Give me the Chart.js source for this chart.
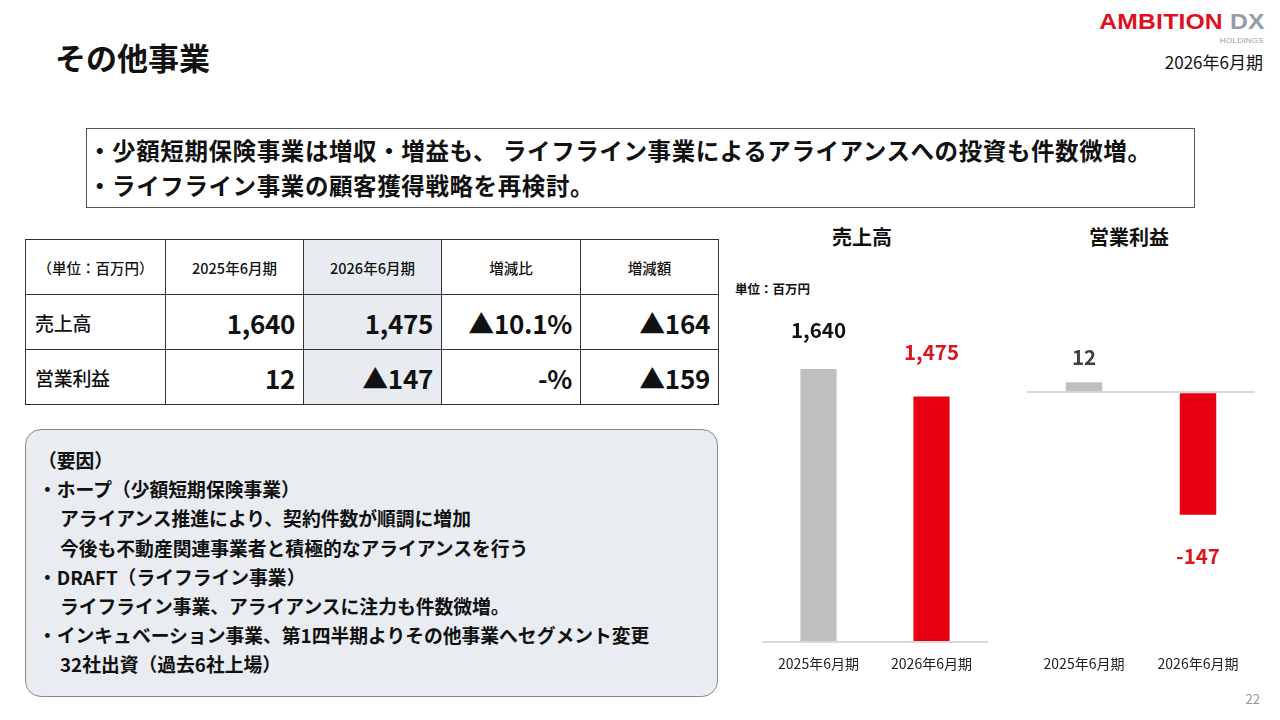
<!DOCTYPE html>
<html lang="ja">
<head>
<meta charset="utf-8">
<script src="https://cdn.jsdelivr.net/npm/chart.js@4.4.1/dist/chart.umd.min.js"></script>
<style>
  * { box-sizing: border-box; margin: 0; padding: 0; }
  body { width: 1280px; height: 720px; background: #fff; position: relative; overflow: hidden;
         font-family: "Noto Sans CJK JP", "Noto Sans", sans-serif; color: #111; }
  .abs { position: absolute; }
  #title { left: 55px; top: 36px; font-size: 31px; font-weight: 700; line-height: 42px; }
  #logo { right: 15px; top: 11px; font-family: "Liberation Sans", Arial, sans-serif; font-weight: 700;
          font-size: 22px; letter-spacing: 0.2px; line-height: 22px; white-space: nowrap;
          transform: scaleX(1.12); transform-origin: right center; }
  #logo .red { color: #E0111E; }
  #logo .grey { color: #939DA8; }
  #holdings { right: 16px; top: 36px; font-family: "Liberation Sans", Arial, sans-serif; font-size: 8px;
              line-height: 9px; color: #939DA8; letter-spacing: 0.3px; }
  #period { right: 17px; top: 49px; font-size: 17px; line-height: 26px; }
  #summary { left: 86px; top: 128px; width: 1109px; height: 80px; border: 1px solid #555;
             padding: 4px 0 0 1px; font-size: 23.5px; font-weight: 700; line-height: 35px;
             letter-spacing: 0.6px; white-space: nowrap; }
  table { position: absolute; left: 25px; top: 239px; width: 693px; border-collapse: collapse; table-layout: fixed; }
  td { border: 1px solid #333; font-weight: 500; white-space: nowrap; }
  tr.head td { height: 55px; font-size: 14.5px; text-align: center; }
  tr.row td { height: 55px; font-size: 26px; font-weight: 700; text-align: right; padding-right: 8px; letter-spacing: -0.3px; }
  tr.row td.lab { font-size: 19px; font-weight: 500; text-align: left; padding-left: 9px; }
  td.hl { background: #E8ECF0; }
  #factors { left: 25px; top: 429px; width: 693px; height: 268px; border: 1px solid #8A8A8A;
             border-radius: 16px; background: #E9ECF0; padding: 15px 0 0 12px;
             font-size: 18.8px; font-weight: 700; line-height: 29.2px; white-space: nowrap; }
  #factors .in { padding-left: 22px; }
  .ctitle { top: 223px; font-size: 20px; font-weight: 700; width: 200px; text-align: center; line-height: 28px; }
  #unit { left: 735px; top: 279px; font-size: 12.5px; font-weight: 700; }
  #page { right: 20px; top: 689px; font-size: 13px; color: #999; }
  canvas { position: absolute; }
</style>
</head>
<body>
<div id="title" class="abs">その他事業</div>
<div id="logo" class="abs"><span class="red">AMBITION</span> <span class="grey">DX</span></div>
<div id="holdings" class="abs">HOLDINGS</div>
<div id="period" class="abs">2026年6月期</div>

<div id="summary" class="abs">
  <div>・少額短期保険事業は増収・増益も、 ライフライン事業によるアライアンスへの投資も件数微増。</div>
  <div>・ライフライン事業の顧客獲得戦略を再検討。</div>
</div>

<table>
  <colgroup><col style="width:140px"><col style="width:138px"><col style="width:138px"><col style="width:139px"><col style="width:138px"></colgroup>
  <tr class="head"><td>（単位：百万円）</td><td>2025年6月期</td><td class="hl">2026年6月期</td><td>増減比</td><td>増減額</td></tr>
  <tr class="row"><td class="lab">売上高</td><td>1,640</td><td class="hl">1,475</td><td>▲10.1%</td><td>▲164</td></tr>
  <tr class="row"><td class="lab">営業利益</td><td>12</td><td class="hl">▲147</td><td>-%</td><td>▲159</td></tr>
</table>

<div id="factors" class="abs">
  <div>（要因）</div>
  <div>・ホープ（少額短期保険事業）</div>
  <div class="in">アライアンス推進により、契約件数が順調に増加</div>
  <div class="in">今後も不動産関連事業者と積極的なアライアンスを行う</div>
  <div>・DRAFT（ライフライン事業）</div>
  <div class="in">ライフライン事業、アライアンスに注力も件数微増。</div>
  <div>・インキュベーション事業、第1四半期よりその他事業へセグメント変更</div>
  <div class="in">32社出資（過去6社上場）</div>
</div>

<div class="abs ctitle" style="left:762px;">売上高</div>
<div class="abs ctitle" style="left:1029px;">営業利益</div>
<div id="unit" class="abs">単位：百万円</div>
<div id="page" class="abs">22</div>

<canvas id="salesChart" width="226" height="380" style="left:762px; top:309px;"></canvas>
<canvas id="profitChart" width="228" height="380" style="left:1027px; top:309px;"></canvas>

<script>
// --- Дані ---
const categories = ['2025年6月期', '2026年6月期'];
const salesValues = [1640, 1475];
const profitValues = [12, -147];
const salesRange = [0, 2000];
const profitRange = [-300, 100];

const barColors = ['#BFBFBF', '#E60012'];
const salesLabelColors = ['#111111', '#DC141E'];
const profitLabelColors = ['#404040', '#DC141E'];

// підписи значень над / під стовпцями
const valueLabels = {
    id: 'valueLabels',
    afterDatasetsDraw(chart, args, opts) {
        const ctx = chart.ctx;
        const data = chart.data.datasets[0].data;
        chart.getDatasetMeta(0).data.forEach((bar, i) => {
            const v = data[i];
            const y = v >= 0 ? bar.y - opts.offsets[i] : bar.y + opts.offsets[i];
            ctx.save();
            ctx.fillStyle = opts.colors[i];
            ctx.font = 'bold 20.5px "Noto Sans CJK JP"';
            ctx.textAlign = 'center';
            ctx.textBaseline = 'middle';
            ctx.fillText(v.toLocaleString('en-US'), bar.x, y);
            ctx.restore();
        });
    }
};

function makeChart(id, values, range, labelColors, offsets, showBase) {
    return new Chart(document.getElementById(id), {
        type: 'bar',
        data: {
            labels: categories,
            datasets: [{
                data: values,
                backgroundColor: barColors,
                categoryPercentage: 1,
                barPercentage: 0.32
            }]
        },
        options: {
            responsive: false,
            animation: false,
            layout: { padding: 0 },
            plugins: {
                legend: { display: false },
                tooltip: { enabled: false },
                valueLabels: { colors: labelColors, offsets: offsets }
            },
            scales: {
                x: {
                    grid: { display: true, color: 'rgba(0,0,0,0)', drawTicks: false },
                    border: { display: showBase, color: '#D9D9D9', width: 2 },
                    ticks: { color: '#222', padding: 13, font: { size: 14, family: '"Noto Sans CJK JP"' } },
                    afterFit(axis) { axis.height = 47; }
                },
                y: {
                    display: true,
                    min: range[0],
                    max: range[1],
                    ticks: { display: false, stepSize: 100 },
                    border: { display: false },
                    grid: {
                        drawTicks: false,
                        lineWidth: 2,
                        color: c => (!showBase && c.tick && c.tick.value === 0) ? '#D9D9D9' : 'rgba(0,0,0,0)'
                    },
                    afterFit(axis) { axis.width = 0; }
                }
            }
        },
        plugins: [valueLabels]
    });
}

makeChart('salesChart', salesValues, salesRange, salesLabelColors, [39, 44], true);
makeChart('profitChart', profitValues, profitRange, profitLabelColors, [25, 42], false);
</script>
</body>
</html>
